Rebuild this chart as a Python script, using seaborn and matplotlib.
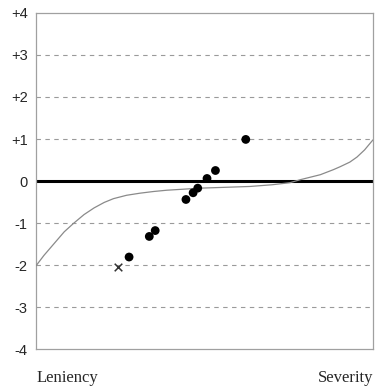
import matplotlib
matplotlib.use("Agg")
import pandas as pd
import matplotlib.pyplot as plt
import seaborn as sns

# curve (x from leniency -4 to severity +4)
curve_x = [-4.0, -3.81, -3.57, -3.33, -3.11, -2.86, -2.62, -2.38, -2.16, -1.85,
           -1.53, -1.21, -0.90, -0.58, -0.10, 0.5, 1.08, 1.6, 2.03, 2.27,
           2.75, 3.06, 3.22, 3.45, 3.62, 3.8, 4.0]
curve_y = [-2.02, -1.77, -1.49, -1.21, -1.01, -0.80, -0.64, -0.51, -0.42, -0.34,
           -0.29, -0.25, -0.22, -0.20, -0.17, -0.15, -0.13, -0.09, -0.04, 0.03,
           0.15, 0.27, 0.34, 0.45, 0.57, 0.74, 0.98]

# observed points
pts_x = [-1.79, -1.31, -1.17, -0.44, -0.27, -0.16, 0.06, 0.26, 0.98]
pts_y = [-1.81, -1.32, -1.18, -0.44, -0.28, -0.17, 0.06, 0.25, 0.99]

# the single cross
cross_x = [-2.05]
cross_y = [-2.05]

yticks = [-4, -3, -2, -1, 0, 1, 2, 3, 4]
ylabels = ["-4", "-3", "-2", "-1", "0", "+1", "+2", "+3", "+4"]

sns.set_style("white")

fig = plt.figure(figsize=(3.76, 3.88), dpi=100)
ax = fig.add_axes([0.0957, 0.1005, 0.8963, 0.866])

for t in yticks:
    if t in (-4, 0, 4):
        continue
    ax.axhline(t, color="#9a9a9a", lw=0.8, ls=(0, (4, 4)), zorder=1)
ax.axhline(0, color="black", lw=2.2, zorder=2)

sns.lineplot(data=pd.DataFrame({"x": curve_x, "y": curve_y}), x="x", y="y",
             color="#8a8a8a", lw=0.9, sort=False, ax=ax, zorder=3)
sns.scatterplot(data=pd.DataFrame({"x": pts_x, "y": pts_y}), x="x", y="y",
                color="black", s=40, edgecolor="none", ax=ax, zorder=4)
sns.scatterplot(data=pd.DataFrame({"x": cross_x, "y": cross_y}), x="x", y="y",
                color="#333333", marker="x", s=30, linewidth=1.1, ax=ax, zorder=4)

ax.set_xlim(-4, 4)
ax.set_ylim(-4, 4)
ax.set_xticks([])
ax.set_yticks(yticks)
ax.set_yticklabels(ylabels, fontfamily="Liberation Sans", fontsize=10.5)
ax.tick_params(axis="y", length=0, pad=6)
ax.set_xlabel("")
ax.set_ylabel("")
for sp in ax.spines.values():
    sp.set_color("#a0a0a0")
    sp.set_linewidth(0.9)

fig.text(0.098, 0.026, "Leniency", fontfamily="Liberation Serif", fontsize=12,
         ha="left", va="center")
fig.text(0.992, 0.026, "Severity", fontfamily="Liberation Serif", fontsize=12,
         ha="right", va="center")

fig.savefig("out.png", dpi=100)
